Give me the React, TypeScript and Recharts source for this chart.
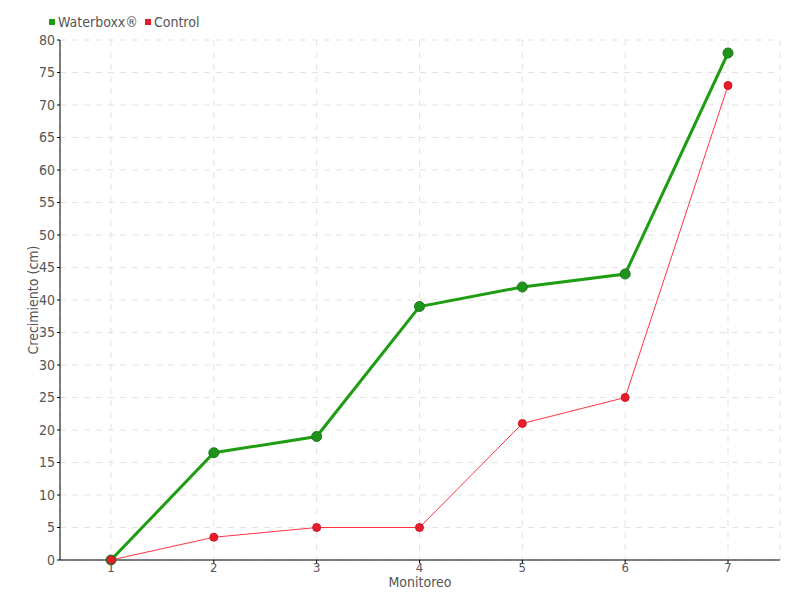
import { LineChart, Line, XAxis, YAxis, CartesianGrid } from "recharts"

const monitoreo = ["1", "2", "3", "4", "5", "6", "7"]
const waterboxx = [0, 16.5, 19, 39, 42, 44, 78]
const control = [0, 3.5, 5, 5, 21, 25, 73]
const yTicks = [0, 5, 10, 15, 20, 25, 30, 35, 40, 45, 50, 55, 60, 65, 70, 75, 80]

const series = [
  { key: "waterboxx", name: "Waterboxx®", color: "#1f9d12" },
  { key: "control", name: "Control", color: "#e51d2b" }
]

const data = monitoreo.map((m, i) => ({ m, waterboxx: waterboxx[i], control: control[i] }))

const font = "'DejaVu Sans Condensed', sans-serif"
const textColor = "#555"

export default function App() {
  return (
    <div style={{ position: "absolute", left: 0, top: 0, width: 800, height: 600, fontFamily: font }}>
      <div style={{ position: "absolute", left: 49, top: 14, display: "flex", fontSize: 14, color: textColor, zIndex: 2 }}>
        {series.map(s => (
          <div key={s.key} style={{ display: "flex", alignItems: "center", marginRight: 7 }}>
            <span style={{ width: 6, height: 6, background: s.color, display: "inline-block", marginRight: 3 }} />
            <span>{s.name}</span>
          </div>
        ))}
      </div>

      <LineChart width={800} height={600} data={data} margin={{ top: 40, right: 20, bottom: 0, left: 0 }}>
        <CartesianGrid stroke="#e3e3e3" strokeDasharray="6 6" />
        <XAxis
          dataKey="m"
          stroke="#000"
          height={40}
          padding={{ left: 51, right: 52 }}
          tickSize={3}
          tickMargin={0}
          tick={{ fill: textColor, fontSize: 13, fontFamily: font }}
          label={{ value: "Monitoreo", position: "center", fill: textColor, fontSize: 14, fontFamily: font, dy: 2 }}
        />
        <YAxis
          domain={[0, 80]}
          ticks={yTicks}
          interval={0}
          stroke="#000"
          width={60}
          tickSize={3}
          tickMargin={2}
          tick={{ fill: textColor, fontSize: 14, fontFamily: font }}
          label={{ value: "Crecimiento (cm)", angle: -90, position: "center", fill: textColor, fontSize: 14, fontFamily: font, dx: 3 }}
        />
        <Line
          dataKey="waterboxx"
          stroke="#1f9d12"
          strokeWidth={3}
          dot={{ r: 5, fill: "#1f9418", stroke: "#17761a", strokeWidth: 1 }}
          isAnimationActive={false}
        />
        <Line
          dataKey="control"
          stroke="#ff3344"
          strokeWidth={1}
          dot={{ r: 4, fill: "#e51d2b", stroke: "#d01824", strokeWidth: 1 }}
          isAnimationActive={false}
        />
      </LineChart>
    </div>
  )
}
